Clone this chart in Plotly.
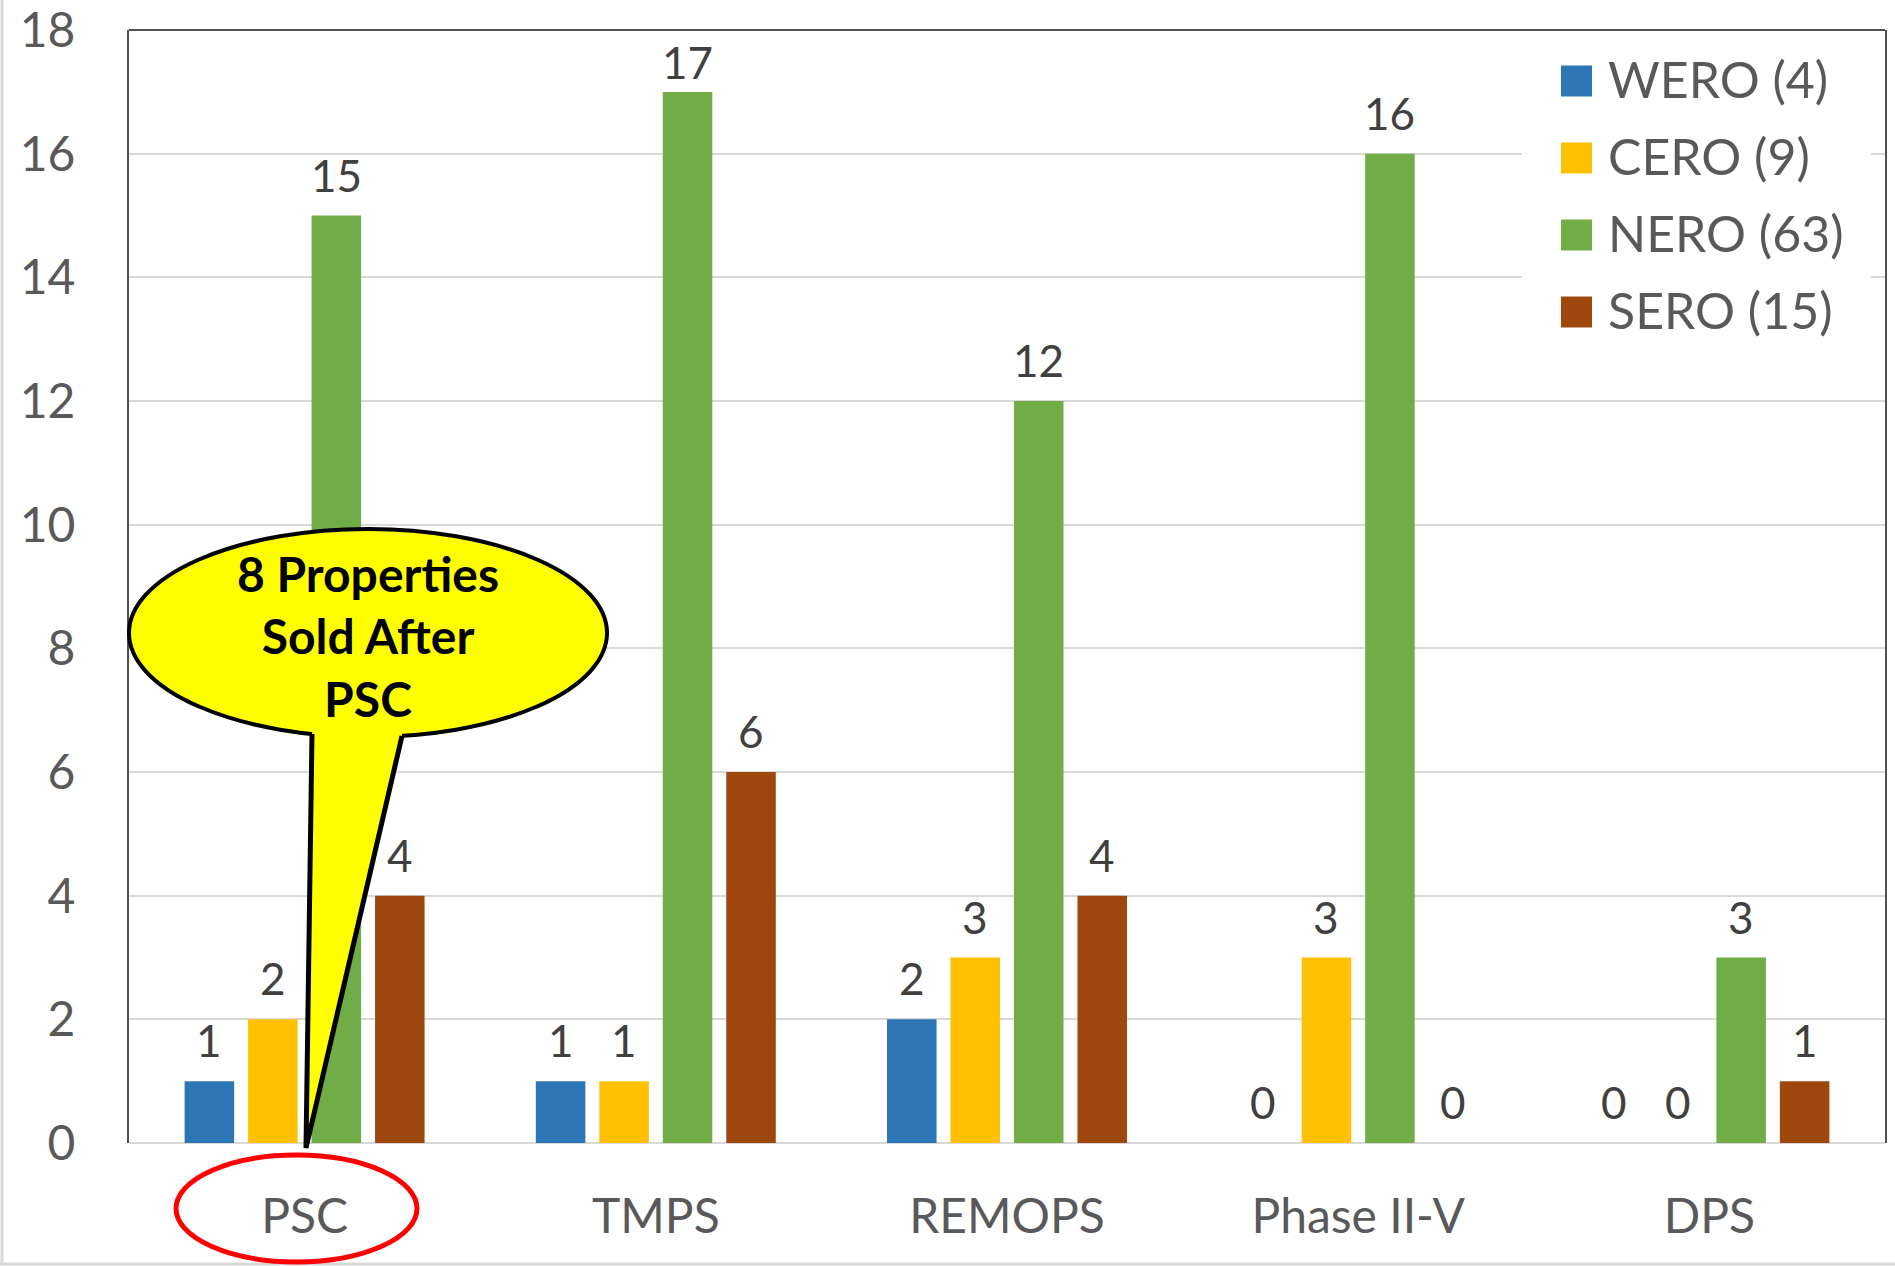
import plotly.graph_objects as go

# data
categories = ['PSC', 'TMPS', 'REMOPS', 'Phase II-V', 'DPS']
series_names = ['WERO (4)', 'CERO (9)', 'NERO (63)', 'SERO (15)']
wero = [1, 1, 2, 0, 0]
cero = [2, 1, 3, 3, 0]
nero = [15, 17, 12, 16, 3]
sero = [4, 6, 4, 0, 1]
y_ticks = [0, 2, 4, 6, 8, 10, 12, 14, 16, 18]
callout_text = '8 Properties<br>Sold After<br>PSC'

colors = ['#2E75B6', '#FFC000', '#70AD47', '#9E480E']
FONT = 'Lato'

# pixel geometry of the plot area
W, H = 1895, 1266
L, R, T, B = 129, 1885, 30, 1143
BARGAP = 0.277
Y_MAX = 18


def px_x(p):
    return (p - L) / (R - L)


def px_y(p):
    return (B - p) / (B - T)


fig = go.Figure()
all_series = [wero, cero, nero, sero]
for name, vals, col in zip(series_names, all_series, colors):
    fig.add_trace(go.Bar(x=categories, y=vals, name=name,
                         marker=dict(color=col, line=dict(width=0)),
                         showlegend=False))

fig.update_layout(
    width=W, height=H,
    margin=dict(l=L, r=W - R, t=T, b=H - B, pad=0),
    paper_bgcolor='white', plot_bgcolor='white',
    barmode='group', bargap=BARGAP, bargroupgap=0.22,
    font=dict(family=FONT, size=48, color='#595959'),
)
fig.update_yaxes(range=[0, Y_MAX + 0.002], tickvals=y_ticks, showgrid=True, gridcolor='#d9d9d9', gridwidth=2,
                 zeroline=True, zerolinecolor='#d9d9d9', zerolinewidth=2,
                 showline=True, mirror=True, linecolor='#505050', linewidth=2,
                 ticks='', ticklabelstandoff=42, ticklabeloverflow='allow', automargin=False,
                 tickfont=dict(size=48, color='#595959'))
fig.update_xaxes(showgrid=False, showline=False, zeroline=False, ticks='', automargin=False,
                 ticklabelstandoff=41, tickfont=dict(size=48, color='#595959'))

shapes = []
# top border of plot area
shapes.append(dict(type='line', xref='paper', yref='paper', x0=0, x1=1, y0=1, y1=1,
                   line=dict(color='#505050', width=2)))
# outer chart border (left, bottom)
shapes.append(dict(type='line', xref='paper', yref='paper', x0=px_x(2), x1=px_x(2), y0=px_y(0), y1=px_y(1264),
                   line=dict(color='#d9d9d9', width=3)))
shapes.append(dict(type='line', xref='paper', yref='paper', x0=px_x(0), x1=px_x(W), y0=px_y(1264), y1=px_y(1264),
                   line=dict(color='#d9d9d9', width=3)))
# legend background
shapes.append(dict(type='rect', xref='paper', yref='paper', x0=px_x(1522), x1=px_x(1871),
                   y0=px_y(40), y1=px_y(350), fillcolor='white', line=dict(width=0), layer='above'))
# callout balloon
shapes.append(dict(type='circle', xref='paper', yref='paper', x0=px_x(129), x1=px_x(607),
                   y0=px_y(529), y1=px_y(737), fillcolor='#FFFF00', line=dict(color='black', width=4),
                   layer='above'))
tail_fill = 'M {} {} L {} {} L {} {} L {} {} L {} {} Z'.format(
    px_x(314), px_y(720), px_x(312), px_y(734), px_x(306), px_y(1148),
    px_x(402), px_y(736), px_x(400), px_y(720))
shapes.append(dict(type='path', xref='paper', yref='paper', path=tail_fill,
                   fillcolor='#FFFF00', line=dict(width=0), layer='above'))
tail_line = 'M {} {} L {} {} L {} {}'.format(
    px_x(312), px_y(734), px_x(306), px_y(1148), px_x(402), px_y(736))
shapes.append(dict(type='path', xref='paper', yref='paper', path=tail_line,
                   line=dict(color='black', width=5), layer='above'))
# red ellipse around PSC
shapes.append(dict(type='circle', xref='paper', yref='paper', x0=px_x(176), x1=px_x(417),
                   y0=px_y(1155), y1=px_y(1262), line=dict(color='#FF0000', width=5), layer='above'))

annotations = []
# value labels above each bar (kept inside the plot area, like Excel does)
slot = (R - L) / len(categories) * (1 - BARGAP) / len(all_series)
ppu = (B - T) / Y_MAX
for i, vals in enumerate(all_series):
    for cat, v in zip(categories, vals):
        bar_top = B - v * ppu
        centre = max(bar_top - 41, T + 32)
        annotations.append(dict(xref='x', yref='y', x=cat, y=v, text=str(v), showarrow=False,
                                xanchor='center', yanchor='middle',
                                xshift=(i - (len(all_series) - 1) / 2) * slot, yshift=bar_top - centre,
                                font=dict(family=FONT, size=44, color='#404040')))

annotations.append(dict(xref='paper', yref='paper', x=px_x(368), y=px_y(636), text=callout_text,
                        showarrow=False, xanchor='center', yanchor='middle', align='center',
                        font=dict(family=FONT, size=48, color='black', weight='bold')))
# custom legend
for i, (name, col) in enumerate(zip(series_names, colors)):
    cy = 81 + 77 * i
    shapes.append(dict(type='rect', xref='paper', yref='paper', x0=px_x(1561), x1=px_x(1592),
                       y0=px_y(cy - 15.5), y1=px_y(cy + 15.5), fillcolor=col,
                       line=dict(width=0), layer='above'))
    annotations.append(dict(xref='paper', yref='paper', x=px_x(1606), y=px_y(cy - 2), text=name,
                            showarrow=False, xanchor='left', yanchor='middle',
                            font=dict(family=FONT, size=50, color='#595959')))

fig.update_layout(shapes=shapes, annotations=annotations)

fig.write_html("out.html", config={'displayModeBar': False},
               post_script="document.body.style.margin='0';document.body.style.overflow='hidden';")
